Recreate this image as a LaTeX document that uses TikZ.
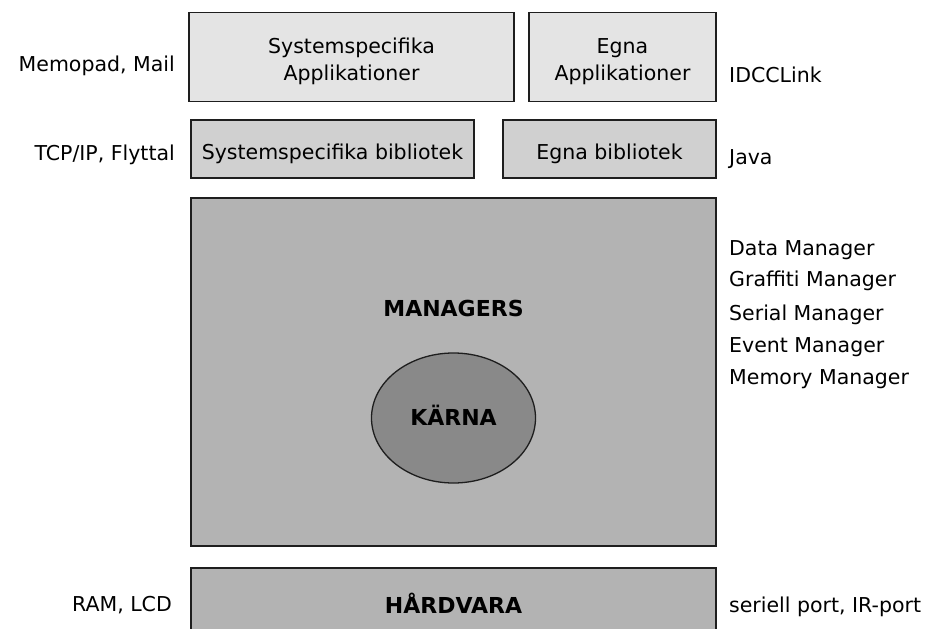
\documentclass[tikz,border=0pt]{standalone}
\usepackage{fontspec}
\setmainfont{DejaVu Sans}
\usetikzlibrary{shapes.geometric}
\definecolor{appgray}{HTML}{E4E4E4}
\definecolor{libgray}{HTML}{D0D0D0}
\definecolor{mgrgray}{HTML}{B3B3B3}
\definecolor{kerngray}{HTML}{898989}
\definecolor{edge}{HTML}{1E1E1E}
\begin{document}
\begin{tikzpicture}[x=1pt,y=-1pt,
  every node/.style={font=\fontsize{20.5}{27}\selectfont, inner sep=0pt},
  layer/.style={draw=edge, line width=1.3pt, rectangle},
  txt/.style={anchor=base},
  bold/.style={anchor=base, font=\fontsize{22}{26}\selectfont\bfseries},
  side/.style={anchor=base west},
  sideL/.style={anchor=base east}]
\clip (0,0) rectangle (935,629);
\fill[white] (0,0) rectangle (935,629);
% layers
\node[layer, fill=appgray, minimum width=325pt, minimum height=89pt] (sysapp) at (351.5,57) {};
\node[txt] (sysapp1) at (351.5,53) {Systemspecifika};
\node[txt] (sysapp2) at (351.5,80) {Applikationer};
\node[layer, fill=appgray, minimum width=187pt, minimum height=89pt] (egnaapp) at (622.5,57) {};
\node[txt] (egnaapp1) at (622.5,53) {Egna};
\node[txt] (egnaapp2) at (622.5,80) {Applikationer};
\node[layer, fill=libgray, minimum width=283pt, minimum height=58pt] (syslib) at (332.5,149) {};
\node[txt] (syslibt) at (332.5,159) {Systemspecifika bibliotek};
\node[layer, fill=libgray, minimum width=213pt, minimum height=58pt] (egnalib) at (609.5,149) {};
\node[txt] (egnalibt) at (609.5,159) {Egna bibliotek};
\node[layer, fill=mgrgray, minimum width=525pt, minimum height=348pt] (mgr) at (453.5,372) {};
\node[bold] (mgrlabel) at (453.5,316.5) {MANAGERS};
\node[draw=edge, line width=1.3pt, ellipse, fill=kerngray, minimum width=164pt, minimum height=130pt] (kern) at (453.5,418) {};
\node[bold] (kernlabel) at (453.5,425.5) {KÄRNA};
\node[layer, fill=mgrgray, minimum width=525pt, minimum height=100pt] (hw) at (453.5,618) {};
\node[bold] (hwlabel) at (453.5,613) {HÅRDVARA};
% side labels
\node[sideL] (l1) at (175,71) {Memopad, Mail};
\node[sideL] (l2) at (175,160) {TCP/IP, Flyttal};
\node[sideL] (l3) at (172,611) {RAM, LCD};
\node[side] (r1) at (729,82) {IDCCLink};
\node[side] (r2) at (729,164) {Java};
\node[side] (r3) at (729,255) {Data Manager};
\node[side] (r4) at (729,286) {Graffiti Manager};
\node[side] (r5) at (729,320) {Serial Manager};
\node[side] (r6) at (729,352) {Event Manager};
\node[side] (r7) at (729,384) {Memory Manager};
\node[side] (r8) at (729,612) {seriell port, IR-port};
\end{tikzpicture}
\end{document}
